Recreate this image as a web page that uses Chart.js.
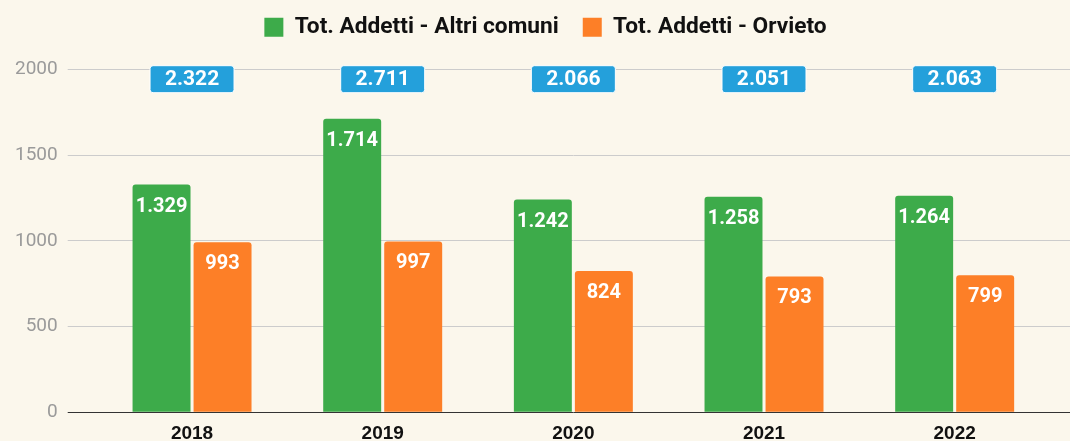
<!DOCTYPE html>
<html>
<head>
<meta charset="utf-8">
<script src="https://cdn.jsdelivr.net/npm/chart.js@4"></script>
<style>
  html, body { margin: 0; padding: 0; background: #fbf7ec; }
  #wrap { width: 1070px; height: 441px; }
</style>
</head>
<body>
<div id="wrap"><canvas id="chartAddetti"></canvas></div>
<script>
var anni = ['2018', '2019', '2020', '2021', '2022'];
var altriComuni = [1329, 1714, 1242, 1258, 1264];
var orvieto = [993, 997, 824, 793, 799];
var tickY = [0, 500, 1000, 1500, 2000];

var fmt = function (v) { return v.toLocaleString('it-IT'); };

// legenda: spazio in piu sotto e leggero spostamento a destra
var ritoccoLegenda = {
    id: 'ritoccoLegenda',
    beforeInit: function (chart) {
        var legenda = chart.legend;
        var fitOrig = legenda.fit;
        legenda.fit = function () {
            fitOrig.apply(legenda, arguments);
            legenda.height += 21;
        };
        var drawOrig = legenda.draw;
        legenda.draw = function () {
            chart.ctx.save();
            chart.ctx.translate(8, 0);
            drawOrig.apply(legenda, arguments);
            chart.ctx.restore();
        };
    }
};

// etichette dentro le barre + totali in alto
var etichette = {
    id: 'etichette',
    afterDatasetsDraw: function (chart) {
        var ctx = chart.ctx;
        ctx.save();
        ctx.fillStyle = '#ffffff';
        ctx.font = 'bold 20px Roboto';
        ctx.textAlign = 'center';
        ctx.textBaseline = 'middle';
        chart.data.datasets.forEach(function (ds, i) {
            chart.getDatasetMeta(i).data.forEach(function (bar, j) {
                ctx.fillText(fmt(ds.data[j]), bar.x, bar.y + 22);
            });
        });

        var xScale = chart.scales.x;
        var top = chart.chartArea.top;
        ctx.font = 'bold 21px Roboto';
        for (var j = 0; j < anni.length; j++) {
            var tot = altriComuni[j] + orvieto[j];
            var cx = xScale.getPixelForValue(j);
            var w = 84, h = 27;
            ctx.beginPath();
            ctx.roundRect(cx - w / 2, top - 4, w, h, 3);
            ctx.fillStyle = '#24a0db';
            ctx.fill();
            ctx.lineWidth = 1;
            ctx.strokeStyle = '#ffffff';
            ctx.stroke();
            ctx.fillStyle = '#ffffff';
            ctx.fillText(fmt(tot), cx, top - 4 + h / 2 + 1);
        }
        ctx.restore();
    }
};

var coloreGriglia = function (c) {
    return c.tick && c.tick.value === 0 ? '#333333' : '#cccccc';
};

var ctx = document.getElementById('chartAddetti');
var chart = new Chart(ctx, {
    type: 'bar',
    data: {
        labels: anni,
        datasets: [{
            label: 'Tot. Addetti - Altri comuni',
            data: altriComuni,
            backgroundColor: '#3dab4a',
            borderColor: '#3dab4a',
            borderRadius: { topLeft: 3, topRight: 3 },
            borderSkipped: 'bottom'
        }, {
            label: 'Tot. Addetti - Orvieto',
            data: orvieto,
            backgroundColor: '#fd7f27',
            borderColor: '#fd7f27',
            borderRadius: { topLeft: 3, topRight: 3 },
            borderSkipped: 'bottom'
        }]
    },
    options: {
        responsive: true,
        maintainAspectRatio: false,
        animation: false,
        categoryPercentage: 0.64,
        barPercentage: 0.95,
        layout: { padding: { left: 5, right: 0, top: -8, bottom: -14 } },
        plugins: {
            legend: {
                position: 'top',
                labels: {
                    color: '#111111',
                    font: { family: 'Roboto', size: 22.7, weight: 'bold' },
                    boxWidth: 19,
                    boxHeight: 19,
                    padding: 24
                }
            },
            tooltip: { enabled: false }
        },
        scales: {
            x: {
                grid: { display: false, drawTicks: false },
                border: { display: false },
                ticks: {
                    color: '#111111',
                    padding: 10,
                    font: { family: 'Liberation Sans', size: 19, weight: 'bold' }
                }
            },
            y: {
                min: 0,
                max: 2000,
                afterBuildTicks: function (axis) {
                    axis.ticks = tickY.map(function (v) { return { value: v }; });
                },
                grid: { color: coloreGriglia, tickLength: 29 },
                border: { display: false },
                ticks: {
                    color: '#9a9a9a',
                    padding: 10,
                    font: { family: 'Roboto', size: 19 },
                    callback: function (v) { return String(v); }
                }
            },
            yDestra: {
                position: 'right',
                min: 0,
                max: 2000,
                afterBuildTicks: function (axis) {
                    axis.ticks = tickY.map(function (v) { return { value: v }; });
                },
                grid: { drawOnChartArea: false, color: coloreGriglia, tickLength: 20 },
                border: { display: false },
                ticks: { display: false }
            }
        }
    },
    plugins: [ritoccoLegenda, etichette]
});
</script>
</body>
</html>
